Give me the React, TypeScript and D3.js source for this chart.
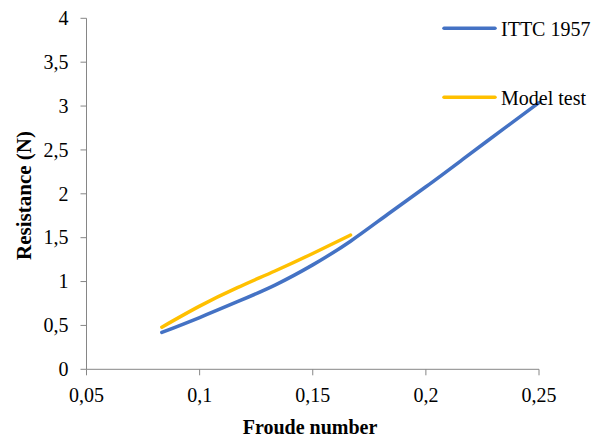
import React from "react";
import * as d3 from "d3";

const froudeITTC = [0.0833, 0.1, 0.1167, 0.1333, 0.15, 0.1667, 0.1833, 0.2, 0.2167, 0.2333, 0.25];
const resistanceITTC = [0.42, 0.59, 0.77, 0.96, 1.19, 1.46, 1.77, 2.08, 2.4, 2.72, 3.04];
const froudeModel = [0.0833, 0.1, 0.1167, 0.1333, 0.15, 0.1667];
const resistanceModel = [0.48, 0.72, 0.93, 1.12, 1.32, 1.53];
const xTicks = [0.05, 0.1, 0.15, 0.2, 0.25];
const yTicks = [0, 0.5, 1, 1.5, 2, 2.5, 3, 3.5, 4];
const seriesNames = ["ITTC 1957", "Model test"];
const colors = ["#4472C4", "#FFC000"];

const fmt = (v: number) => String(v).replace(".", ",");

export default function App() {
  const W = 595, H = 441;
  const x = d3.scaleLinear().domain([0.05, 0.25]).range([86.5, 539]);
  const y = d3.scaleLinear().domain([0, 4]).range([369.3, 18.3]);
  const line = d3
    .line<[number, number]>()
    .x((d) => x(d[0]))
    .y((d) => y(d[1]))
    .curve(d3.curveNatural);
  const s1 = froudeITTC.map((f, i) => [f, resistanceITTC[i]] as [number, number]);
  const s2 = froudeModel.map((f, i) => [f, resistanceModel[i]] as [number, number]);
  const axisColor = "#868686";
  const font = "Liberation Serif";
  const ts = { fontFamily: font };
  return (
    <svg width={W} height={H} style={{ position: "absolute", left: 0, top: 0, background: "#fff", fontFamily: font }}>
      <rect width={W} height={H} fill="#fff" />
      <line x1={x(0.05)} x2={x(0.05)} y1={y(0)} y2={y(4)} stroke={axisColor} strokeWidth={1} />
      <line x1={x(0.05)} x2={x(0.25)} y1={y(0)} y2={y(0)} stroke={axisColor} strokeWidth={1} />
      {yTicks.map((t) => (
        <g key={"y" + t}>
          <line x1={x(0.05) - 6} x2={x(0.05)} y1={y(t)} y2={y(t)} stroke={axisColor} />
          <text x={68.5} y={y(t) + 6.8} textAnchor="end" fontSize={20} fill="#000" style={ts}>
            {fmt(t)}
          </text>
        </g>
      ))}
      {xTicks.map((t) => (
        <g key={"x" + t}>
          <line x1={x(t)} x2={x(t)} y1={y(0)} y2={y(0) + 6} stroke={axisColor} />
          <text x={x(t)} y={402} textAnchor="middle" fontSize={20} fill="#000" style={ts}>
            {fmt(t)}
          </text>
        </g>
      ))}
      <path d={line(s1) || ""} fill="none" stroke={colors[0]} strokeWidth={3.5} strokeLinecap="round" />
      <path d={line(s2) || ""} fill="none" stroke={colors[1]} strokeWidth={3.5} strokeLinecap="round" />
      <text x={310} y={434} textAnchor="middle" fontSize={20} fontWeight="bold" fill="#000" style={ts}>
        Froude number
      </text>
      <text
        transform={`translate(31, 195.5) rotate(-90)`}
        textAnchor="middle"
        fontSize={21}
        fontWeight="bold"
        fill="#000"
        style={ts}
      >
        Resistance (N)
      </text>
      {seriesNames.map((n, i) => (
        <g key={n}>
          <line x1={444} x2={495} y1={28.3 + i * 69} y2={28.3 + i * 69} stroke={colors[i]} strokeWidth={3.5} strokeLinecap="round" />
          <text x={501} y={35.5 + i * 69} fontSize={20} fill="#000" style={ts}>
            {n}
          </text>
        </g>
      ))}
    </svg>
  );
}
